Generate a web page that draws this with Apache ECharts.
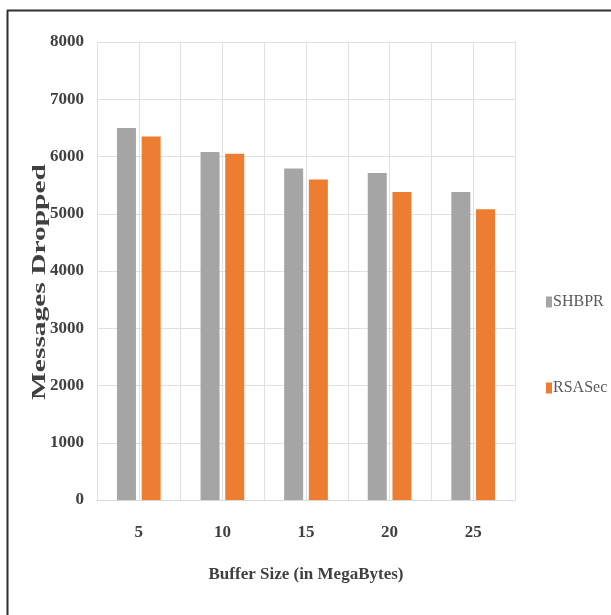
<!DOCTYPE html>
<html>
<head>
<meta charset="utf-8">
<script src="https://cdn.jsdelivr.net/npm/echarts@6/dist/echarts.min.js"></script>
<style>
  html, body { margin: 0; padding: 0; background: #ffffff; }
  #chart { width: 611px; height: 615px; }
</style>
</head>
<body>
<div id="chart"></div>
<script>
// Buffer sizes (MB) and dropped-message counts for each routing scheme
const bufferSizes = ['5', '10', '15', '20', '25'];
const shbprDropped = [6500, 6080, 5790, 5710, 5380];
const rsasecDropped = [6350, 6050, 5600, 5380, 5080];
const yTicks = { min: 0, max: 8000, interval: 1000 };

const serif = '"Liberation Serif", "DejaVu Serif", serif';
const textColor = '#404040';
const chart = echarts.init(document.getElementById('chart'), null, { renderer: 'canvas' });

chart.setOption({
  animation: false,
  backgroundColor: '#ffffff',
  grid: { left: 97, right: 96, top: 42, bottom: 115 },
  legend: {
    orient: 'vertical',
    left: 541,
    top: 289,
    itemGap: 70,
    itemWidth: 6,
    itemHeight: 11,
    icon: 'rect',
    textStyle: { fontFamily: serif, fontSize: 16, color: '#595959', padding: [0, 0, 0, -4] },
    data: ['SHBPR', 'RSASec']
  },
  xAxis: [
    {
      type: 'category',
      data: bufferSizes,
      axisTick: { show: false },
      axisLine: { lineStyle: { color: '#d9d9d9', width: 1 } },
      axisLabel: { fontFamily: serif, fontSize: 17, fontWeight: 'bold', color: textColor, margin: 24 },
      name: 'Buffer Size (in MegaBytes)',
      nameLocation: 'middle',
      nameGap: 66,
      nameTextStyle: { fontFamily: serif, fontSize: 17, fontWeight: 'bold', color: textColor }
    },
    {
      // half-category grid lines (category edges and centres)
      type: 'value',
      min: 0,
      max: 10,
      interval: 1,
      position: 'bottom',
      axisLine: { show: false },
      axisTick: { show: false },
      axisLabel: { show: false },
      splitLine: { show: true, lineStyle: { color: '#e0e0e0', width: 1 } }
    }
  ],
  yAxis: {
    type: 'value',
    min: yTicks.min,
    max: yTicks.max,
    interval: yTicks.interval,
    axisLine: { show: false },
    axisTick: { show: false },
    axisLabel: {
      fontFamily: serif, fontSize: 17, fontWeight: 'bold', color: textColor, margin: 13,
      formatter: (v) => String(v)
    },
    splitLine: { lineStyle: { color: '#e0e0e0', width: 1 } }
  },
  series: [
    {
      name: 'SHBPR',
      type: 'bar',
      xAxisIndex: 0,
      data: shbprDropped,
      barWidth: 19,
      barGap: '30%',
      itemStyle: { color: '#a5a5a5' }
    },
    {
      name: 'RSASec',
      type: 'bar',
      xAxisIndex: 0,
      data: rsasecDropped,
      barWidth: 19,
      barGap: '30%',
      itemStyle: { color: '#ed7d31' }
    }
  ],
  graphic: [
    // outer frame (top and left edges)
    { type: 'line', shape: { x1: 7, y1: 10.5, x2: 611, y2: 10.5 }, style: { stroke: '#303030', lineWidth: 2 } },
    { type: 'line', shape: { x1: 7.5, y1: 10, x2: 7.5, y2: 615 }, style: { stroke: '#303030', lineWidth: 2 } },
    // vertical axis title, stretched along its length
    {
      type: 'text',
      x: 40,
      y: 282,
      rotation: Math.PI / 2,
      scaleX: 1.55,
      scaleY: 1,
      style: {
        text: 'Messages Dropped',
        font: 'bold 19px ' + serif,
        fill: textColor,
        align: 'center',
        verticalAlign: 'middle'
      }
    }
  ]
});
</script>
</body>
</html>
